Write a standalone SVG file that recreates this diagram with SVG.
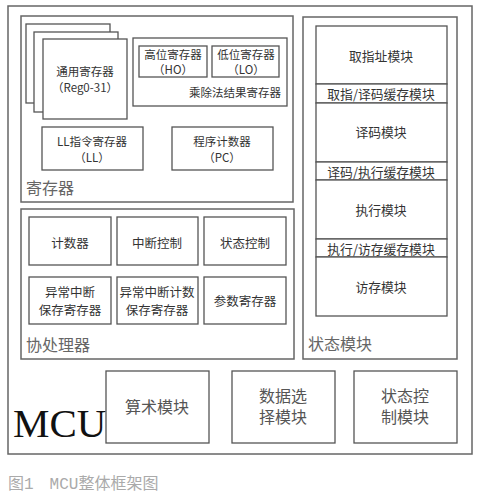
<svg xmlns="http://www.w3.org/2000/svg" width="484" height="498" viewBox="0 0 484 498">
<style>
rect{fill:#fff;stroke:#555;stroke-width:1.3}
.o{stroke:#666;stroke-width:1.5}
text{font-family:"Noto Sans CJK SC","Liberation Sans",sans-serif;fill:#333;text-anchor:middle;dominant-baseline:central}
.s{font-size:11.5px}
.m{font-size:12.5px}
.b{font-size:12.8px}
.lbl{font-family:"Liberation Serif","Noto Sans CJK SC",serif;font-size:16px;fill:#666;text-anchor:start}
.big{font-family:"Liberation Serif","Noto Sans CJK SC",serif;font-size:16px;fill:#555}
</style>
<rect width="484" height="498" style="fill:#fff;stroke:none"/>
<g id="mcu">
<rect class="o" x="8" y="6" width="464" height="448"/>
<text x="13" y="423" style="font-family:'Liberation Serif',serif;font-size:41px;fill:#111;text-anchor:start">MCU</text>
</g>
<g id="registers">
<rect class="o" x="21" y="16" width="272" height="186"/>
<text class="lbl" x="26" y="188">寄存器</text>
</g>
<g id="gpr">
<rect x="26" y="24" width="84" height="79"/>
<rect x="34" y="32" width="84" height="80"/>
<rect x="43" y="39" width="84" height="80"/>
<text class="s" x="85" y="71">通用寄存器</text>
<text class="s" x="85" y="87">（Reg0-31）</text>
</g>
<g id="muldiv">
<rect x="133" y="38" width="154" height="68"/>
<text class="s" x="281" y="92" style="text-anchor:end">乘除法结果寄存器</text>
</g>
<g id="ho">
<rect x="139" y="46" width="68" height="31"/>
<text class="s" x="173" y="54">高位寄存器</text>
<text class="s" x="173" y="69">（HO）</text>
</g>
<g id="lo">
<rect x="212" y="46" width="67" height="31"/>
<text class="s" x="246" y="54">低位寄存器</text>
<text class="s" x="246" y="69">（LO）</text>
</g>
<g id="ll">
<rect x="42" y="127" width="101" height="43"/>
<text class="s" x="92" y="141">LL指令寄存器</text>
<text class="s" x="92" y="157">（LL）</text>
</g>
<g id="pc">
<rect x="172" y="127" width="101" height="43"/>
<text class="s" x="222" y="141">程序计数器</text>
<text class="s" x="222" y="157">（PC）</text>
</g>
<g id="coproc">
<rect class="o" x="21" y="209" width="273" height="150"/>
<text class="lbl" x="26" y="345">协处理器</text>
</g>
<g id="counter"><rect x="29" y="217" width="82" height="48"/><text class="m" x="70" y="242">计数器</text></g>
<g id="intctl"><rect x="117" y="217" width="81" height="48"/><text class="m" x="157" y="242">中断控制</text></g>
<g id="statectl"><rect x="204" y="217" width="82" height="48"/><text class="m" x="245" y="242">状态控制</text></g>
<g id="excsave"><rect x="29" y="277" width="82" height="47"/><text class="m" x="70" y="291">异常中断</text><text class="m" x="70" y="309">保存寄存器</text></g>
<g id="exccnt"><rect x="117" y="277" width="81" height="47"/><text class="m" x="157" y="291">异常中断计数</text><text class="m" x="157" y="309">保存寄存器</text></g>
<g id="param"><rect x="204" y="277" width="82" height="47"/><text class="m" x="245" y="300">参数寄存器</text></g>
<g id="state">
<rect class="o" x="303" y="17" width="154" height="342"/>
<text class="lbl" x="308" y="344">状态模块</text>
</g>
<g id="fetch"><rect x="316" y="26" width="131" height="58"/><text class="b" x="381" y="55">取指址模块</text></g>
<g id="ifid"><rect x="316" y="84" width="131" height="19"/><text class="b" x="381" y="93">取指/译码缓存模块</text></g>
<g id="decode"><rect x="316" y="103" width="131" height="59"/><text class="b" x="381" y="131">译码模块</text></g>
<g id="idex"><rect x="316" y="162" width="131" height="18"/><text class="b" x="381" y="171">译码/执行缓存模块</text></g>
<g id="exec"><rect x="316" y="180" width="131" height="59"/><text class="b" x="381" y="209">执行模块</text></g>
<g id="exmem"><rect x="316" y="239" width="131" height="18"/><text class="b" x="381" y="248">执行/访存缓存模块</text></g>
<g id="mem"><rect x="316" y="257" width="131" height="59"/><text class="b" x="381" y="286">访存模块</text></g>
<g id="alu"><rect x="106" y="371" width="103" height="72"/><text class="big" x="157" y="407">算术模块</text></g>
<g id="datasel"><rect x="232" y="371" width="103" height="72"/><text class="big" x="283" y="396">数据选</text><text class="big" x="283" y="417">择模块</text></g>
<g id="statectrl"><rect x="354" y="371" width="103" height="72"/><text class="big" x="405" y="396">状态控</text><text class="big" x="405" y="417">制模块</text></g>
<g id="connectors"></g>
<text x="8" y="485" style="font-family:'Liberation Mono','Noto Sans CJK SC',monospace;font-size:16px;fill:#aaa;text-anchor:start">图1　MCU整体框架图</text>
</svg>
